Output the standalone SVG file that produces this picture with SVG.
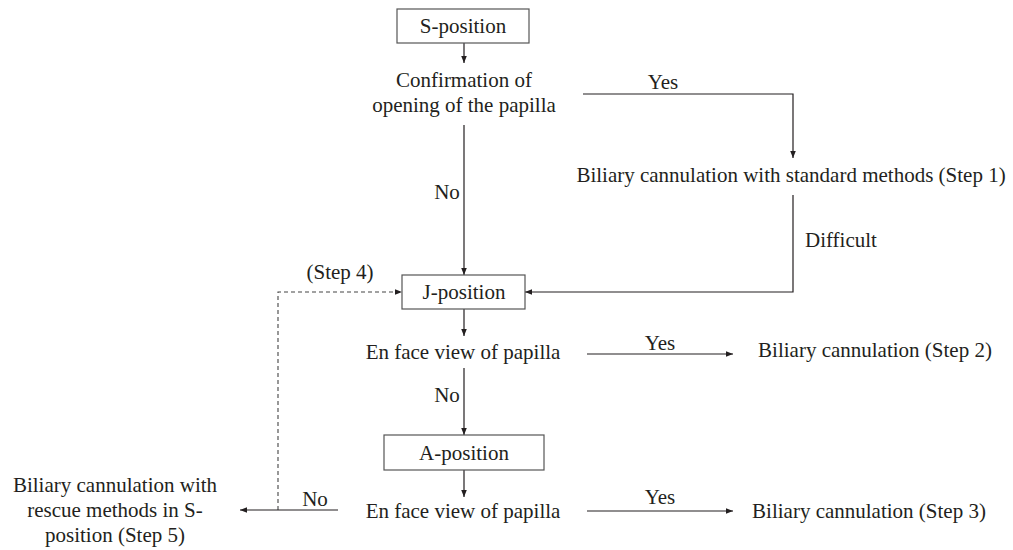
<svg xmlns="http://www.w3.org/2000/svg" width="1013" height="550" viewBox="0 0 1013 550">
<defs>
<marker id="ah" viewBox="0 0 10 10" refX="10" refY="5" markerWidth="7" markerHeight="7" markerUnits="userSpaceOnUse" orient="auto">
<path d="M0,1 L10,5 L0,9 Z" fill="#231f20"/>
</marker>
<style>
text{font-family:"Liberation Serif","Times New Roman",serif;font-size:21px;fill:#231f20;}
.c{text-anchor:middle;}
.box{fill:#fff;stroke:#555;stroke-width:1.2;}
.ln{fill:none;stroke:#231f20;stroke-width:1.2;}
.da{fill:none;stroke:#444;stroke-width:1.1;stroke-dasharray:4,3;}
</style>
</defs>
<rect width="1013" height="550" fill="#fff"/>
<g id="connectors">
<line class="ln" x1="464" y1="43" x2="464" y2="63" marker-end="url(#ah)"/>
<polyline class="ln" points="583,94 793,94 793,158" marker-end="url(#ah)"/>
<line class="ln" x1="464" y1="125" x2="464" y2="275" marker-end="url(#ah)"/>
<polyline class="ln" points="793,195 793,292 525,292" marker-end="url(#ah)"/>
<polyline class="da" points="278,510 278,292 402,292" marker-end="url(#ah)"/>
<line class="ln" x1="464" y1="309" x2="464" y2="336" marker-end="url(#ah)"/>
<line class="ln" x1="587" y1="354" x2="733" y2="354" marker-end="url(#ah)"/>
<line class="ln" x1="464" y1="368" x2="464" y2="435" marker-end="url(#ah)"/>
<line class="ln" x1="464" y1="470" x2="464" y2="497" marker-end="url(#ah)"/>
<line class="ln" x1="587" y1="511" x2="733" y2="511" marker-end="url(#ah)"/>
<line class="ln" x1="338" y1="510" x2="240" y2="510" marker-end="url(#ah)"/>
<text class="c" x="663" y="89">Yes</text>
<text x="447" y="199" class="c">No</text>
<text x="805" y="247">Difficult</text>
<text class="c" x="340" y="279">(Step 4)</text>
<text class="c" x="660" y="350">Yes</text>
<text class="c" x="447" y="402">No</text>
<text class="c" x="660" y="504">Yes</text>
<text class="c" x="315" y="506">No</text>
</g>
<g id="s-position">
<rect class="box" x="397" y="9" width="132" height="34"/>
<text class="c" x="463" y="33">S-position</text>
</g>
<g id="confirmation">
<text class="c" x="464" y="87">Confirmation of</text>
<text class="c" x="464" y="112">opening of the papilla</text>
</g>
<g id="step1">
<text class="c" x="791" y="182">Biliary cannulation with standard methods (Step 1)</text>
</g>
<g id="j-position">
<rect class="box" x="402" y="275" width="123" height="34"/>
<text class="c" x="464" y="299">J-position</text>
</g>
<g id="enface1">
<text class="c" x="463" y="359">En face view of papilla</text>
</g>
<g id="step2">
<text class="c" x="875" y="357">Biliary cannulation (Step 2)</text>
</g>
<g id="a-position">
<rect class="box" x="384" y="435" width="160" height="35"/>
<text class="c" x="464" y="460">A-position</text>
</g>
<g id="enface2">
<text class="c" x="463" y="518">En face view of papilla</text>
</g>
<g id="step3">
<text class="c" x="869" y="518">Biliary cannulation (Step 3)</text>
</g>
<g id="step5">
<text class="c" x="115" y="492">Biliary cannulation with</text>
<text class="c" x="115" y="517">rescue methods in S-</text>
<text class="c" x="115" y="542">position (Step 5)</text>
</g>
</svg>
